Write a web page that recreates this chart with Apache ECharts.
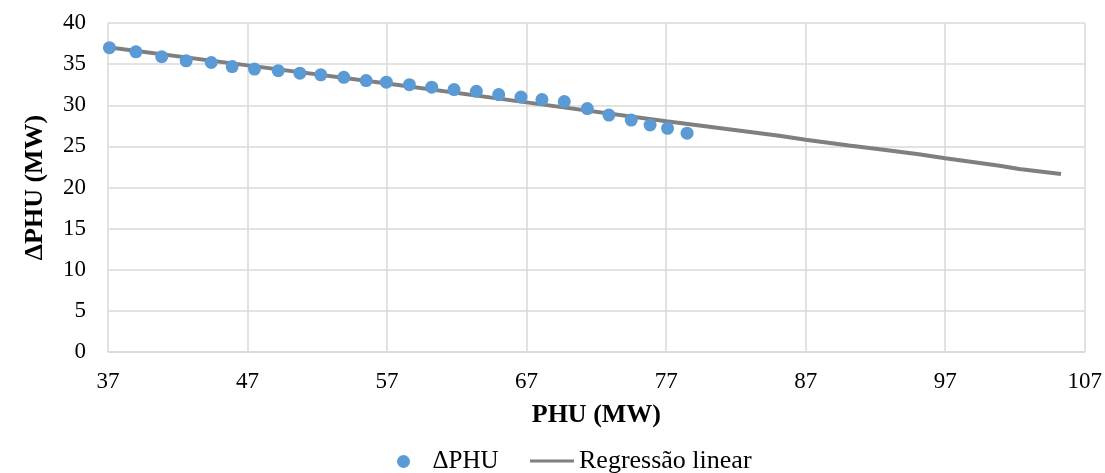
<!DOCTYPE html>
<html>
<head>
<meta charset="utf-8">
<script src="https://cdn.jsdelivr.net/npm/echarts@6/dist/echarts.min.js"></script>
<style>
  html, body { margin: 0; padding: 0; background: #ffffff; }
  #chart { width: 1105px; height: 473px; }
</style>
</head>
<body>
<div id="chart"></div>
<script>
// Measured ΔPHU against PHU (MW)
const phu = [37.1, 39.0, 40.85, 42.6, 44.4, 45.9, 47.5, 49.2, 50.75, 52.25, 53.9, 55.5, 56.95,
             58.6, 60.2, 61.8, 63.4, 65.0, 66.6, 68.1, 69.7, 71.35, 72.9, 74.5, 75.85, 77.1, 78.5];
const deltaPhu = [37.0, 36.5, 35.9, 35.4, 35.2, 34.7, 34.4, 34.2, 33.9, 33.7, 33.4, 33.0, 32.8,
                  32.5, 32.2, 31.9, 31.7, 31.3, 31.0, 30.7, 30.45, 29.6, 28.8, 28.2, 27.6, 27.2, 26.6];

// Regression curve
const regX = [37.0, 47.0, 57.0, 67.0, 77.0, 78.0, 85.1, 87.0, 90.1, 92.3, 95.1, 97.0, 100.9, 102.3, 105.3];
const regY = [37.05, 34.85, 32.65, 30.35, 28.05, 27.85, 26.3, 25.8, 25.1, 24.65, 24.05, 23.55, 22.65, 22.25, 21.65];

// Axis ticks
const xMin = 37, xMax = 107, xStep = 10;
const yMin = 0, yMax = 40, yStep = 5;

const scatterName = 'ΔPHU';
const lineName = 'Regressão linear';

const font = '"Liberation Serif", "Times New Roman", serif';
const gridColor = '#d9d9d9';

const chart = echarts.init(document.getElementById('chart'), null, { renderer: 'canvas' });

chart.setOption({
  animation: false,
  backgroundColor: '#ffffff',
  grid: { left: 108, right: 19, top: 23, bottom: 121, containLabel: false },
  xAxis: {
    type: 'value',
    min: xMin, max: xMax, interval: xStep,
    name: 'PHU (MW)',
    nameLocation: 'middle',
    nameGap: 50,
    nameTextStyle: { fontFamily: font, fontSize: 26, fontWeight: 'bold', color: '#000' },
    axisLine: { show: true, lineStyle: { color: gridColor, width: 1.5 } },
    axisTick: { show: false },
    axisLabel: { fontFamily: font, fontSize: 23, color: '#000', margin: 18 },
    splitLine: { show: true, lineStyle: { color: gridColor, width: 1.5 } }
  },
  yAxis: {
    type: 'value',
    min: yMin, max: yMax, interval: yStep,
    name: 'ΔPHU (MW)',
    nameLocation: 'middle',
    nameRotate: 90,
    nameGap: 60,
    nameTextStyle: { fontFamily: font, fontSize: 26, fontWeight: 'bold', color: '#000' },
    axisLine: { show: false },
    axisTick: { show: false },
    axisLabel: { fontFamily: font, fontSize: 23, color: '#000', margin: 22 },
    splitLine: { show: true, lineStyle: { color: gridColor, width: 1.5 } }
  },
  legend: [
    {
      data: [{ name: scatterName, icon: 'circle' }],
      left: 392, top: 444,
      itemWidth: 48, itemHeight: 13,
      textStyle: { fontFamily: font, fontSize: 25, color: '#000' },
      selectedMode: false
    },
    {
      data: [{ name: lineName, icon: 'rect' }],
      left: 525, top: 443,
      itemWidth: 44, itemHeight: 3,
      textStyle: { fontFamily: font, fontSize: 26, color: '#000' },
      selectedMode: false
    }
  ],
  series: [
    {
      name: lineName,
      type: 'line',
      data: regX.map((x, i) => [x, regY[i]]),
      showSymbol: false,
      symbol: 'none',
      smooth: false,
      lineStyle: { color: '#7f7f7f', width: 4 },
      itemStyle: { color: '#7f7f7f' },
      z: 2
    },
    {
      name: scatterName,
      type: 'scatter',
      data: phu.map((x, i) => [x, deltaPhu[i]]),
      symbol: 'circle',
      symbolSize: 13,
      itemStyle: { color: '#5b9bd5', opacity: 1 },
      z: 3
    }
  ]
});
</script>
</body>
</html>
